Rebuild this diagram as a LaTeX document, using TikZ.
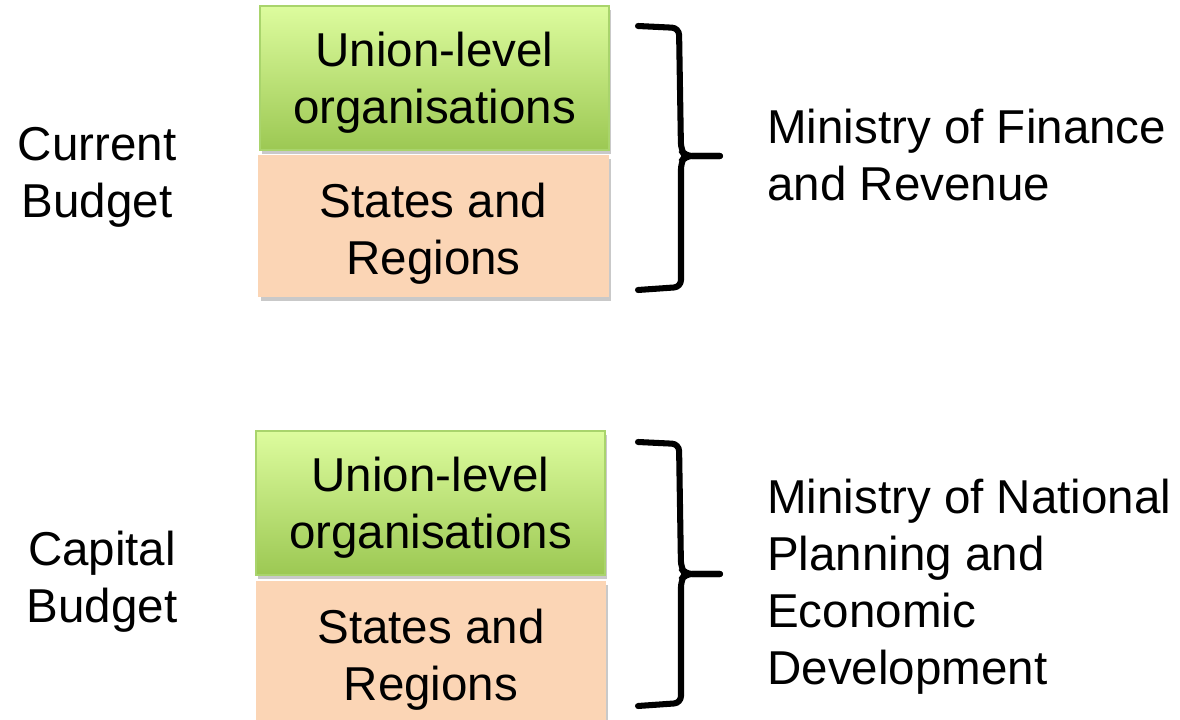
\documentclass[tikz,border=0pt]{standalone}
\usepackage{fontspec}
\setmainfont{Liberation Sans}
\usepackage{tikz}
\usetikzlibrary{shadows}

\definecolor{greentop}{HTML}{DDFC9E}
\definecolor{greenbot}{HTML}{9CC853}
\definecolor{greenline}{HTML}{A9D46C}
\definecolor{peach}{HTML}{FBD5B5}

\begin{document}
\begin{tikzpicture}[x=0.025cm, y=-0.025cm,
    every node/.style={font=\fontsize{33.8}{40.5}\selectfont, inner sep=0pt},
    unionbox/.style={minimum width=8.725cm, minimum height=3.6cm,
        top color=greentop, bottom color=greenbot, draw=greenline, line width=0.8pt,
        drop shadow={shadow xshift=1.5pt, shadow yshift=-3pt, fill=black!30, opacity=0.7}},
    statebox/.style={minimum width=8.75cm, minimum height=3.55cm,
        fill=peach,
        drop shadow={shadow xshift=1.5pt, shadow yshift=-3pt, fill=black!30, opacity=0.7}},
    boxtext/.style={align=center, yshift=#1},
    bracket/.style={line width=4.3pt, rounded corners=5pt, line cap=round}]
    \useasboundingbox (0,0) rectangle (1180,720);

    % current budget
    \node[unionbox, label={[boxtext=-3.2pt]center:Union-level\\organisations}] (union1) at (434.5,78) {};
    \node[statebox, label={[boxtext=-5.3pt]center:States and\\Regions}] (state1) at (433.5,226) {};
    \node[align=center] (current) at (97,177) {Current\\Budget};
    \draw[bracket] (638,26) -- (679,28) -- (681,150) -- (685,156) -- (720,156);
    \draw[bracket] (720,156) -- (685,156) -- (681,162) -- (681,287) -- (638,290);
    \node[align=left, anchor=west] (finance) at (767,155) {Ministry of Finance\\and Revenue};

    % capital budget
    \node[unionbox, label={[boxtext=-3.2pt]center:Union-level\\organisations}] (union2) at (430.5,503) {};
    \node[statebox, label={[boxtext=-5.3pt]center:States and\\Regions}] (state2) at (431,652) {};
    \node[align=center] (capital) at (102,582) {Capital\\Budget};
    \draw[bracket] (638,442) -- (679,444) -- (681,568) -- (685,574) -- (720,574);
    \draw[bracket] (720,574) -- (685,574) -- (681,580) -- (681,703) -- (638,706);
    \node[align=left, anchor=west] (planning) at (767,587) {Ministry of National\\Planning and\\Economic\\Development};
\end{tikzpicture}
\end{document}
